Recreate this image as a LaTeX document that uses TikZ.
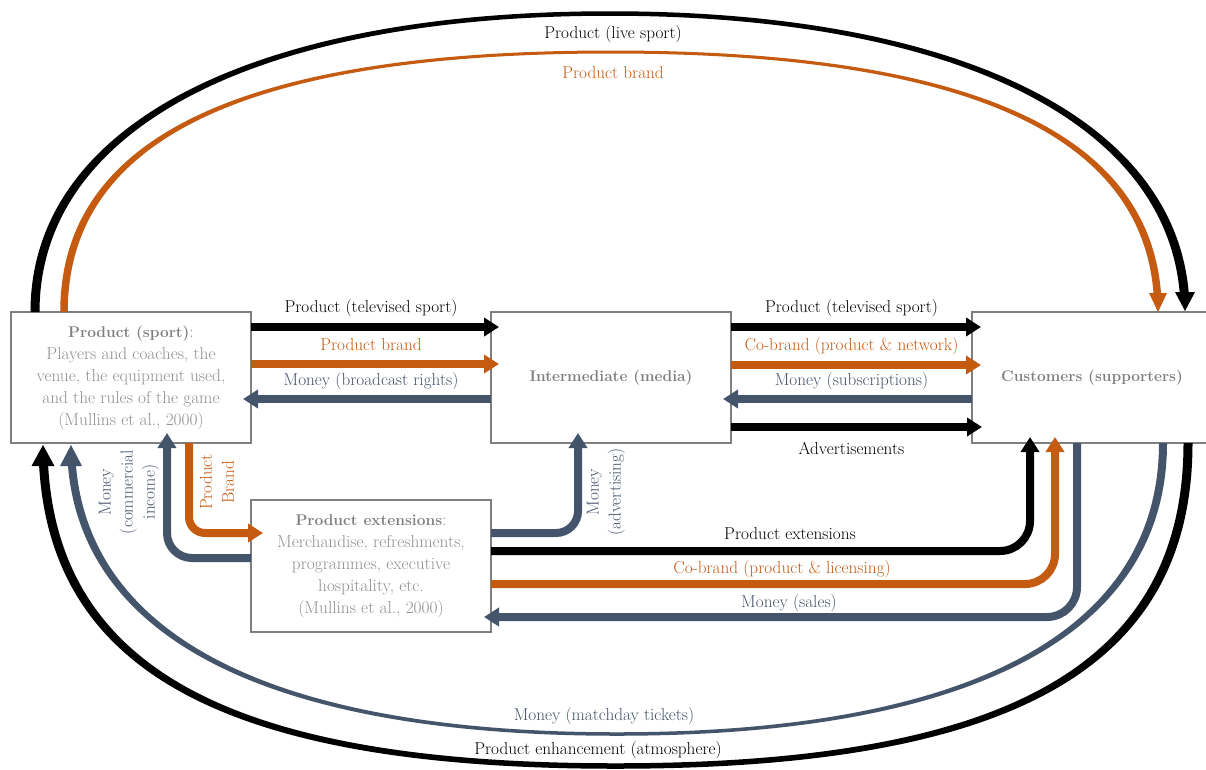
\documentclass[tikz,border=0pt]{standalone}
\usepackage{fontspec}
\usetikzlibrary{arrows.meta,calc}
\definecolor{orng}{HTML}{C55A11}
\definecolor{slate}{HTML}{44546A}
\definecolor{boxgray}{HTML}{7F7F7F}
\definecolor{txtgray}{HTML}{8F8F8F}
\newcommand{\hd}[1]{\textcolor{boxgray}{\fontsize{15.5}{22}\selectfont\textbf{#1}}}
\tikzset{
  box/.style={draw=boxgray, line width=2pt, fill=white, minimum width=240pt,
    minimum height=131pt, inner sep=0pt, outer sep=0pt, align=center,
    text=txtgray, font=\fontsize{17.3}{22}\selectfont},
  lab/.style={inner sep=0pt, font=\fontsize{17.2}{22}\selectfont, align=center},
  conn/.style={line width=8pt, -{Triangle[length=15pt,width=18pt]}},
}
% filled band along a symmetric two-piece Bezier arch, thinner at the apex
% #1 colour, #2 x left, #3 x right, #4 y of ends, #5 y of apex,
% #6 width at ends, #7 signed width at apex, #8 handle factor
\newcommand{\bandarc}[8]{%
  \pgfmathsetmacro\bac{((#2)+(#3))/2}%
  \pgfmathsetmacro\balo{(#2)-(#6)/2}%
  \pgfmathsetmacro\bali{(#2)+(#6)/2}%
  \pgfmathsetmacro\baro{(#3)+(#6)/2}%
  \pgfmathsetmacro\bari{(#3)-(#6)/2}%
  \pgfmathsetmacro\bayo{(#5)+(#7)/2}%
  \pgfmathsetmacro\bayi{(#5)-(#7)/2}%
  \pgfmathsetmacro\bacyo{(#4)+(#8)*(\bayo-(#4))}%
  \pgfmathsetmacro\bacyi{(#4)+(#8)*(\bayi-(#4))}%
  \pgfmathsetmacro\bahxo{(#8)*(\bac-\balo)}%
  \pgfmathsetmacro\bahxi{(#8)*(\bac-\bali)}%
  \fill[#1] (\balo,#4) .. controls (\balo,\bacyo) and ({\bac-\bahxo},\bayo) .. (\bac,\bayo)
     .. controls ({\bac+\bahxo},\bayo) and (\baro,\bacyo) .. (\baro,#4)
     -- (\bari,#4) .. controls (\bari,\bacyi) and ({\bac+\bahxi},\bayi) .. (\bac,\bayi)
     .. controls ({\bac-\bahxi},\bayi) and (\bali,\bacyi) .. (\bali,#4) -- cycle;
}
\begin{document}
\begin{tikzpicture}[x=1pt,y=1pt]
\useasboundingbox (0,0) rectangle (1206,-769);
\fill[white] (0,0) rectangle (1206,-769);

% boxes
\node[box] (A) at (131,-377.5) {\hd{Product (sport)}:\\Players and coaches, the\\venue, the equipment used,\\and the rules of the game\\(Mullins et al., 2000)};
\node[box] (B) at (611,-377.5) {\hd{Intermediate (media)}};
\node[box] (C) at (1092,-377.5) {\hd{Customers (supporters)}};
\node[box, minimum height=132pt] (D) at (371,-566) {\hd{Product extensions}:\\Merchandise, refreshments,\\programmes, executive\\hospitality, etc.\\(Mullins et al., 2000)};

% outer arches (top: sport -> customers)
\begin{scope}
  \clip (0,0) -- (1206,0) -- (1206,-293) -- (610,-293) -- (610,-312) -- (0,-312) -- cycle;
  \bandarc{black}{35}{1185}{-312}{-13.5}{9}{4.5}{0.62}
  \bandarc{orng}{64}{1158}{-312}{-52}{7.5}{3}{0.67}
\end{scope}
\fill[black] (1185,-311) -- (1175,-292) -- (1195,-292) -- cycle;
\fill[orng] (1158,-312) -- (1149,-293) -- (1167,-293) -- cycle;
% bottom arches: customers -> sport
\begin{scope}
  \clip (0,-769) -- (1206,-769) -- (1206,-443) -- (610,-443) -- (610,-465) -- (0,-465) -- cycle;
  \bandarc{black}{43}{1188}{-443}{-766}{9}{-5.5}{0.69}
  \bandarc{slate}{71}{1163}{-443}{-734}{8}{-3.5}{0.65}
\end{scope}
\fill[black] (43,-445) -- (31.5,-466) -- (54.5,-466) -- cycle;
\fill[slate] (71,-445) -- (60,-466) -- (82,-466) -- cycle;

\node[lab] (lls) at (613,-34) {Product (live sport)};
\node[lab, text=orng] (lpb) at (613,-73) {Product brand};
\node[lab, text=slate] (lmt) at (604,-716) {Money (matchday tickets)};
\node[lab] (lpa) at (598,-750) {Product enhancement (atmosphere)};

% sport -> media
\draw[conn, black, shorten >=-8pt] ([yshift=-15pt]A.north east) -- ([yshift=-15pt]B.north west)
  node[lab, midway, yshift=19pt] (t1) {Product (televised sport)};
\draw[conn, orng, shorten >=-8pt] ([yshift=-52pt]A.north east) -- ([yshift=-52pt]B.north west)
  node[lab, midway, yshift=19pt] (t2) {Product brand};
\draw[conn, slate, shorten >=-8pt] ([yshift=-87pt]B.north west) -- ([yshift=-87pt]A.north east)
  node[lab, midway, yshift=18pt] (t3) {Money (broadcast rights)};

% media -> customers
\draw[conn, black, shorten >=-9pt] ([yshift=-15pt]B.north east) -- ([yshift=-15pt]C.north west)
  node[lab, midway, yshift=19pt] (t4) {Product (televised sport)};
\draw[conn, orng, shorten >=-9pt] ([yshift=-53pt]B.north east) -- ([yshift=-53pt]C.north west)
  node[lab, midway, yshift=19pt] (t5) {Co-brand (product \& network)};
\draw[conn, slate, shorten >=-8pt] ([yshift=-87pt]C.north west) -- ([yshift=-87pt]B.north east)
  node[lab, midway, yshift=18pt] (t6) {Money (subscriptions)};
\draw[conn, black, shorten >=-10pt] ([yshift=-115pt]B.north east) -- ([yshift=-115pt]C.north west)
  node[lab, midway, yshift=-21pt] (t7) {Advertisements};

% sport <-> extensions
\draw[conn, orng, rounded corners=16pt, shorten >=-12pt] ([xshift=178pt]A.south west) |- ([yshift=-33pt]D.north west);
\draw[conn, slate, rounded corners=25pt, shorten >=-10pt] ([yshift=-58pt]D.north west) -| ([xshift=156pt]A.south west);
\node[lab, rotate=90, text=slate] (lmc) at (129,-492) {Money\\(commercial\\income)};
\node[lab, rotate=90, text=orng] (lpbr) at (217,-482) {Product\\Brand};

% extensions -> media
\draw[conn, slate, rounded corners=22pt, shorten >=-10pt] ([yshift=-33pt]D.north east) -| ([xshift=87pt]B.south west);
\node[lab, rotate=90, text=slate] (lma) at (606,-492) {Money\\(advertising)};

% extensions <-> customers
\draw[conn, black, rounded corners=30pt, shorten >=-6pt] ([yshift=-51pt]D.north east) -| ([xshift=58pt]C.south west);
\draw[conn, orng, rounded corners=30pt, shorten >=-6pt] ([yshift=-84pt]D.north east) -| ([xshift=83pt]C.south west);
\draw[conn, slate, rounded corners=30pt, shorten >=-7pt] ([xshift=105pt]C.south west) |- ([yshift=-117pt]D.north east);
\node[lab] (lpe) at (790,-534) {Product extensions};
\node[lab, text=orng] (lcl) at (782,-569) {Co-brand (product \& licensing)};
\node[lab, text=slate] (lms) at (789,-603) {Money (sales)};
\end{tikzpicture}
\end{document}
